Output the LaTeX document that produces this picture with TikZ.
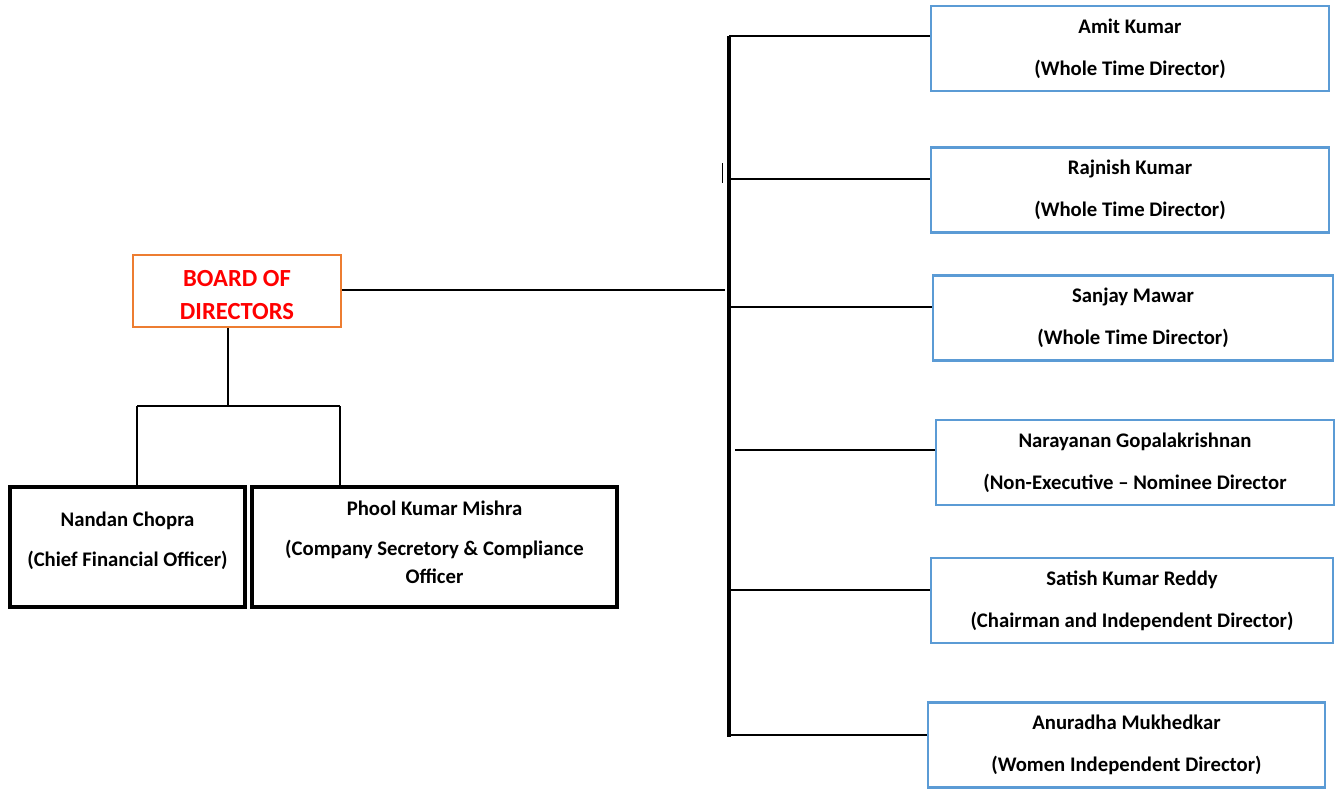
\documentclass[tikz,border=0pt]{standalone}
\usepackage{fontspec}
\setmainfont{Carlito}
\usepackage{xcolor}
\usetikzlibrary{positioning}
\definecolor{boardline}{HTML}{ED7D31}
\definecolor{boardtext}{HTML}{FF0000}
\definecolor{dirline}{HTML}{5B9BD5}
\tikzset{
  board/.style={draw=boardline, line width=1.4pt, minimum width=4.16cm, minimum height=1.44cm,
    inner sep=0pt, align=center, text=boardtext, font=\fontsize{14}{18.7}\selectfont\bfseries},
  officer/.style={draw=black, line width=2pt, minimum height=2.4cm, inner sep=0pt,
    align=center, font=\fontsize{11.8}{22.7}\selectfont\bfseries},
  director/.style={draw=dirline, line width=1.4pt, minimum width=7.96cm, minimum height=1.7cm,
    inner sep=0pt, align=center, font=\fontsize{11.8}{23.8}\selectfont\bfseries},
  link/.style={draw=black, line width=1.2pt},
  trunk/.style={draw=black, line width=1.8pt}
}

\begin{document}
\begin{tikzpicture}[x=0.02cm, y=-0.02cm]
  \useasboundingbox (0,0) rectangle (1343,789);

  % board and the two officers under it
  \node[board] (board) at (237,291) {\mbox{}\\[-5.1pt]BOARD OF\\DIRECTORS};
  \node[officer, minimum width=4.7cm] (nandan) at (127.5,547)
    {Nandan Chopra\\(Chief Financial Officer)\\[-14pt]\mbox{}};
  \node[officer, minimum width=7.3cm] (phool) at (434.5,547)
    {Phool Kumar Mishra\\(Company Secretory \& Compliance\\[-6.8pt]Officer\\[-17.4pt]\mbox{}};

  \coordinate (fork) at (228,406);
  \coordinate (forkl) at (137,406);
  \coordinate (forkr) at (340,406);
  \draw[link] (fork |- board.south) -- (fork);
  \draw[link] (forkl) -- (forkr);
  \draw[link] (forkl) -- (forkl |- nandan.north);
  \draw[link] (forkr) -- (forkr |- phool.north);

  % directors on the right
  \node[director] (amit) at (1130,48.5) {Amit Kumar\\(Whole Time Director)};
  \node[director] (rajnish) at (1130,190) {Rajnish Kumar\\(Whole Time Director)};
  \node[director, minimum width=8cm] (sanjay) at (1133,318) {Sanjay Mawar\\(Whole Time Director)};
  \node[director] (narayanan) at (1135,462.5)
    {Narayanan Gopalakrishnan\\(Non-Executive -- Nominee Director};
  \node[director, minimum width=8.04cm] (satish) at (1132,600.5)
    {Satish Kumar Reddy\\(Chairman and Independent Director)};
  \node[director, minimum width=7.94cm] (anuradha) at (1126.5,745)
    {Anuradha Mukhedkar\\(Women Independent Director)};

  \coordinate (top) at (729,36);
  \coordinate (bottom) at (729,737);
  \coordinate (join) at (725,290);
  \coordinate (t2) at (729,179);
  \coordinate (t3) at (729,307);
  \coordinate (t4) at (735,450);
  \coordinate (t5) at (729,590);
  \coordinate (t6) at (729,735);

  \draw[link] (board.east |- join) -- (join);
  \draw[trunk] (top) -- (bottom);
  \draw[link] (top) -- (top -| amit.west);
  \draw[link] (t2) -- (t2 -| rajnish.west);
  \draw[link] (t3) -- (t3 -| sanjay.west);
  \draw[link] (t4) -- (t4 -| narayanan.west);
  \draw[link] (t5) -- (t5 -| satish.west);
  \draw[link] (t6) -- (t6 -| anuradha.west);

  % small stray tick beside the trunk
  \coordinate (tick) at (722,163);
  \draw[black, line width=0.5pt] (tick) -- ++(0,20);
\end{tikzpicture}
\end{document}
